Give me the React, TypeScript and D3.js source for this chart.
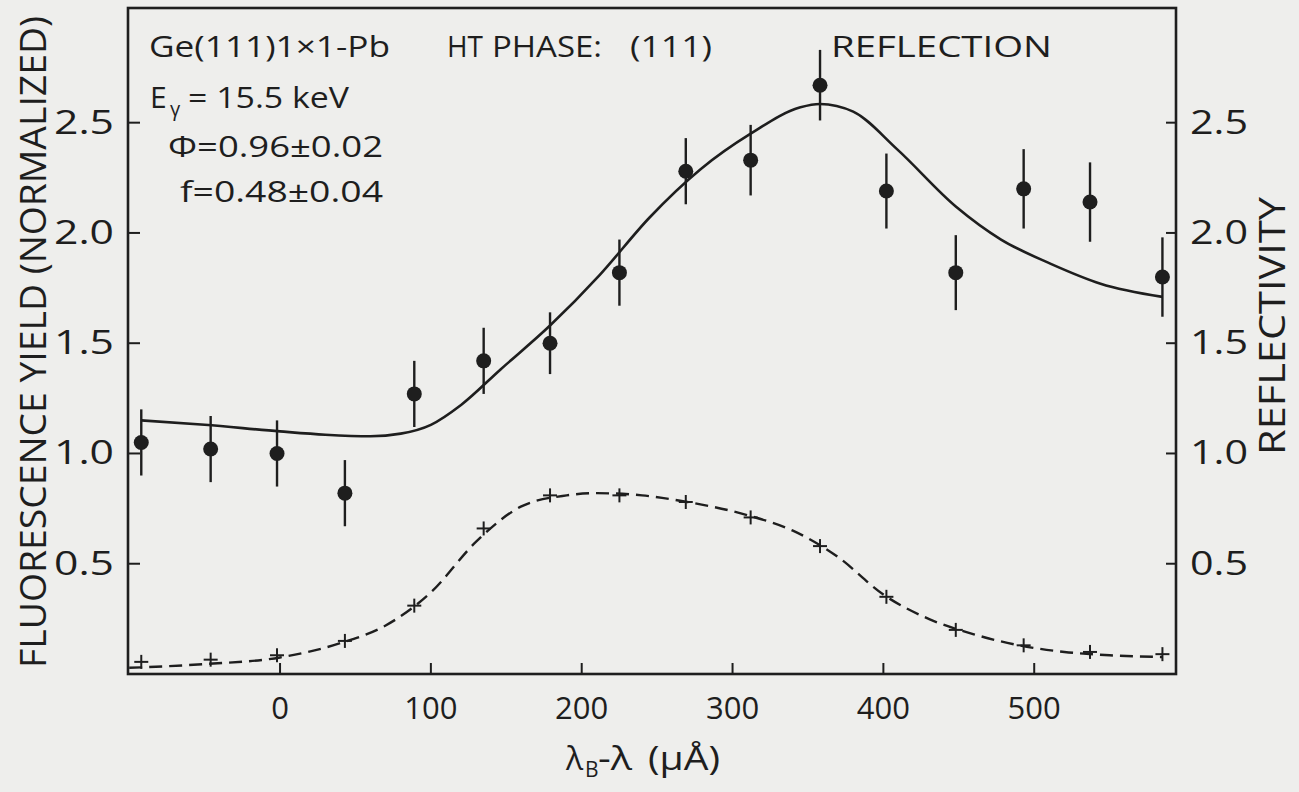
import React from "react";
import * as d3 from "d3";

// ---- data ----
const pointX = [-92, -46, -2, 43, 89, 135, 179, 225, 269, 312, 358, 402, 448, 493, 537, 585];
const yieldY = [1.05, 1.02, 1.0, 0.82, 1.27, 1.42, 1.5, 1.82, 2.28, 2.33, 2.67, 2.19, 1.82, 2.2, 2.14, 1.8];
const yieldErr = [0.15, 0.15, 0.15, 0.15, 0.15, 0.15, 0.14, 0.15, 0.15, 0.16, 0.16, 0.17, 0.17, 0.18, 0.18, 0.18];
const reflY = [0.055, 0.065, 0.085, 0.15, 0.31, 0.66, 0.81, 0.81, 0.78, 0.71, 0.58, 0.35, 0.2, 0.13, 0.1, 0.09];

const fitX = [-92, -50, 0, 30, 60, 80, 100, 120, 146, 179, 212, 245, 279, 312, 345, 358, 380, 409, 448, 478, 511, 544, 585];
const fitY = [1.15, 1.13, 1.1, 1.085, 1.078, 1.09, 1.13, 1.22, 1.38, 1.58, 1.81, 2.07, 2.29, 2.45, 2.57, 2.585, 2.55, 2.38, 2.12, 1.97, 1.86, 1.77, 1.71];

const reflCurveX = [-100, -92, -50, 0, 40, 70, 100, 130, 160, 190, 210, 240, 270, 310, 340, 370, 400, 430, 460, 490, 520, 550, 585];
const reflCurveY = [0.028, 0.03, 0.045, 0.075, 0.14, 0.22, 0.37, 0.6, 0.76, 0.81, 0.82, 0.81, 0.78, 0.72, 0.65, 0.53, 0.36, 0.25, 0.18, 0.13, 0.1, 0.085, 0.077];

const xTicks = [0, 100, 200, 300, 400, 500];
const yTicks = [0.5, 1.0, 1.5, 2.0, 2.5];

const W = 1299;
const H = 792;
const FONT = "'Open Sans', 'DejaVu Sans', sans-serif";
const INK = "#1e1e1e";

export default function App() {
  const x = d3.scaleLinear().domain([-100.8, 594]).range([128, 1176]);
  const y = d3.scaleLinear().domain([0, 3.02]).range([674, 8]);

  const fitLine = d3
    .line<number>()
    .x((_, i) => x(fitX[i]))
    .y((d) => y(d))
    .curve(d3.curveMonotoneX);
  const reflLine = d3
    .line<number>()
    .x((_, i) => x(reflCurveX[i]))
    .y((d) => y(d))
    .curve(d3.curveMonotoneX);

  const [x0, x1] = x.range();
  const [y0, y1] = y.range();

  return (
    <svg
      width={W}
      height={H}
      style={{ position: "absolute", left: 0, top: 0, background: "#eeeeec" }}
      fontFamily={FONT}
    >
      <rect x={0} y={0} width={W} height={H} fill="#eeeeec" />
      {/* frame */}
      <rect x={x0} y={y1} width={x1 - x0} height={y0 - y1} fill="none" stroke={INK} strokeWidth={2.6} />

      {/* bottom ticks */}
      {xTicks.map((t) => (
        <g key={"xt" + t}>
          <line x1={x(t)} x2={x(t)} y1={y0} y2={y0 - 11} stroke={INK} strokeWidth={2} />
          <text x={x(t)} y={719} textAnchor="middle" fontSize={31} fill={INK}>
            {t}
          </text>
        </g>
      ))}
      {/* left & right ticks */}
      {yTicks.map((t) => (
        <g key={"yt" + t}>
          <line x1={x0} x2={x0 + 12} y1={y(t)} y2={y(t)} stroke={INK} strokeWidth={2} />
          <line x1={x1} x2={x1 - 10} y1={y(t)} y2={y(t)} stroke={INK} strokeWidth={2} />
          <text
            x={54}
            y={y(t) + 11}
            textAnchor="start"
            fontSize={32}
            fill={INK}
            textLength={60}
            lengthAdjust="spacingAndGlyphs"
          >
            {t.toFixed(1)}
          </text>
          <text
            x={1190}
            y={y(t) + 11}
            textAnchor="start"
            fontSize={32}
            fill={INK}
            textLength={58}
            lengthAdjust="spacingAndGlyphs"
          >
            {t.toFixed(1)}
          </text>
        </g>
      ))}

      {/* axis titles */}
      <text
        transform={`translate(46, 342) rotate(-90)`}
        textAnchor="middle"
        fontSize={37}
        fill={INK}
        textLength={652}
        lengthAdjust="spacingAndGlyphs"
      >
        FLUORESCENCE YIELD (NORMALIZED)
      </text>
      <text
        transform={`translate(1285, 326) rotate(-90)`}
        textAnchor="middle"
        fontSize={36}
        fill={INK}
        textLength={258}
        lengthAdjust="spacingAndGlyphs"
      >
        REFLECTIVITY
      </text>
      <text x={566} y={770} fontSize={32} fill={INK}>
        λ
      </text>
      <text x={585} y={777} fontSize={21} fill={INK}>
        B
      </text>
      <text x={598} y={770} fontSize={32} fill={INK} textLength={34} lengthAdjust="spacingAndGlyphs">
        -λ
      </text>
      <text x={648} y={770} fontSize={32} fill={INK} textLength={72} lengthAdjust="spacingAndGlyphs">
        (μÅ)
      </text>

      {/* annotations */}
      <text x={149} y={57} fontSize={30} fill={INK} textLength={241} lengthAdjust="spacingAndGlyphs">
        Ge(111)1×1-Pb
      </text>
      <text x={447} y={57} fontSize={30} fill={INK} textLength={36} lengthAdjust="spacingAndGlyphs">
        HT
      </text>
      <text x={492} y={57} fontSize={30} fill={INK} textLength={110} lengthAdjust="spacingAndGlyphs">
        PHASE:
      </text>
      <text x={630} y={57} fontSize={30} fill={INK} textLength={82} lengthAdjust="spacingAndGlyphs">
        (111)
      </text>
      <text x={831} y={57} fontSize={30} fill={INK} textLength={221} lengthAdjust="spacingAndGlyphs">
        REFLECTION
      </text>
      <text x={150} y={108} fontSize={30} fill={INK}>
        E
      </text>
      <text x={170} y={116} fontSize={20} fill={INK}>
        γ
      </text>
      <text x={188} y={108} fontSize={30} fill={INK} textLength={161} lengthAdjust="spacingAndGlyphs">
        = 15.5 keV
      </text>
      <text x={168} y={157} fontSize={30} fill={INK} textLength={215} lengthAdjust="spacingAndGlyphs">
        Φ=0.96±0.02
      </text>
      <text x={180} y={202} fontSize={30} fill={INK} textLength={203} lengthAdjust="spacingAndGlyphs">
        f=0.48±0.04
      </text>

      {/* curves */}
      <path d={fitLine(fitY) || ""} fill="none" stroke={INK} strokeWidth={2.6} />
      <path
        d={reflLine(reflCurveY) || ""}
        fill="none"
        stroke={INK}
        strokeWidth={2.4}
        strokeDasharray="13 7"
      />

      {/* reflectivity markers */}
      {reflY.map((v, i) => (
        <g key={"r" + i} stroke={INK} strokeWidth={2}>
          <line x1={x(pointX[i]) - 7} x2={x(pointX[i]) + 7} y1={y(v)} y2={y(v)} />
          <line x1={x(pointX[i])} x2={x(pointX[i])} y1={y(v) - 7} y2={y(v) + 7} />
        </g>
      ))}

      {/* fluorescence data */}
      {yieldY.map((v, i) => (
        <g key={"p" + i}>
          <line
            x1={x(pointX[i])}
            x2={x(pointX[i])}
            y1={y(v - yieldErr[i])}
            y2={y(v + yieldErr[i])}
            stroke={INK}
            strokeWidth={2.4}
          />
          <circle cx={x(pointX[i])} cy={y(v)} r={7.5} fill={INK} />
        </g>
      ))}
    </svg>
  );
}
